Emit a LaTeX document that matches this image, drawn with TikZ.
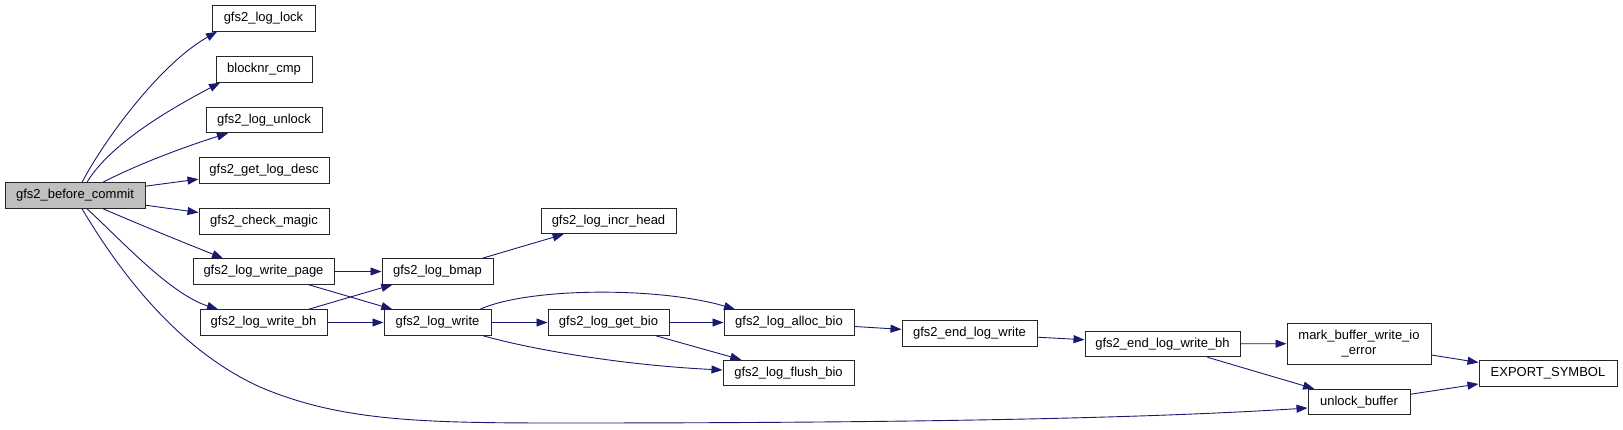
\documentclass[tikz,border=0pt]{standalone}
\usepackage{fontspec}
\setmainfont{Liberation Sans}
\usetikzlibrary{arrows.meta}
\definecolor{edgeblue}{HTML}{191970}
\definecolor{rootgray}{HTML}{BFBFBF}

\begin{document}
\begin{tikzpicture}[x=1pt,y=1pt,
  fn/.style={draw=black!85, line width=1pt, minimum height=25.5pt, inner sep=0pt,
    align=center, font=\fontsize{13}{15}\selectfont},
  call/.style={draw=edgeblue, line width=0.9pt, -{Triangle[length=11pt,width=8pt]}}]
  \useasboundingbox (0,0) rectangle (1623,429);

  % functions
  \node[fn, fill=rootgray, minimum width=140pt] (before) at (75,233.5) {gfs2\_before\_commit};
  \node[fn, minimum width=103pt] (loglock) at (263.5,410.5) {gfs2\_log\_lock};
  \node[fn, minimum width=96pt] (blocknr) at (264,359.5) {blocknr\_cmp};
  \node[fn, minimum width=116pt] (logunlock) at (264,309) {gfs2\_log\_unlock};
  \node[fn, minimum width=130pt] (getlogdesc) at (264,258.5) {gfs2\_get\_log\_desc};
  \node[fn, minimum width=130pt] (checkmagic) at (264,207.5) {gfs2\_check\_magic};
  \node[fn, minimum width=141pt] (writepage) at (263.5,157.5) {gfs2\_log\_write\_page};
  \node[fn, minimum width=127pt] (writebh) at (263.5,106.5) {gfs2\_log\_write\_bh};
  \node[fn, minimum width=111pt] (bmap) at (437.5,157.5) {gfs2\_log\_bmap};
  \node[fn, minimum width=107pt] (logwrite) at (437.5,106.5) {gfs2\_log\_write};
  \node[fn, minimum width=135pt] (incrhead) at (608.5,208) {gfs2\_log\_incr\_head};
  \node[fn, minimum width=121pt] (getbio) at (608.5,106.5) {gfs2\_log\_get\_bio};
  \node[fn, minimum width=130pt] (allocbio) at (789,106.5) {gfs2\_log\_alloc\_bio};
  \node[fn, minimum width=131pt] (flushbio) at (788.5,56) {gfs2\_log\_flush\_bio};
  \node[fn, minimum width=135pt] (endlogwrite) at (969.5,95.5) {gfs2\_end\_log\_write};
  \node[fn, minimum width=155pt] (endlogwritebh) at (1162.5,85) {gfs2\_end\_log\_write\_bh};
  \node[fn, minimum width=144pt, minimum height=41pt] (markbuf) at (1359,85.5) {mark\_buffer\_write\_io\\\_error};
  \node[fn, minimum width=138pt] (exportsym) at (1548,55.5) {EXPORT\_SYMBOL};
  \node[fn, minimum width=102pt] (unlockbuf) at (1359,27) {unlock\_buffer};

  % calls from gfs2_before_commit
  \draw[call] ([xshift=7]before.north) .. controls (105,290) and (160,365) .. ([xshift=-46.5]loglock.south);
  \draw[call] ([xshift=12]before.north) .. controls (110,285) and (170,320) .. ([xshift=-44]blocknr.south);
  \draw[call] ([xshift=28]before.north) .. controls (140,266) and (190,284) .. ([xshift=-36]logunlock.south);
  \draw[call] (before) -- (getlogdesc);
  \draw[call] (before) -- (checkmagic);
  \draw[call] ([xshift=28]before.south) .. controls (150,200) and (190,184) .. ([xshift=-40.5]writepage.north);
  \draw[call] ([xshift=12]before.south) .. controls (120,190) and (170,135) .. ([xshift=-45.5]writebh.north);
  \draw[call] ([xshift=7]before.south) .. controls (125,148) and (183,77) .. (260,42)
    .. controls (340,8) and (420,6) .. (560,6)
    .. controls (850,6) and (1120,9) .. ([yshift=-6]unlockbuf.west);

  % the rest
  \draw[call] (writepage) -- (bmap);
  \draw[call] (writepage) -- (logwrite);
  \draw[call] (writebh) -- (bmap);
  \draw[call] (writebh) -- (logwrite);
  \draw[call] (bmap) -- (incrhead);
  \draw[call] ([xshift=42.5]logwrite.north) .. controls (530,142) and (660,142) .. ([xshift=-54]allocbio.north);
  \draw[call] (logwrite) -- (getbio);
  \draw[call] ([xshift=45.5]logwrite.south) .. controls (530,80) and (620,64) .. ([yshift=3]flushbio.west);
  \draw[call] (getbio) -- (allocbio);
  \draw[call] (getbio) -- (flushbio);
  \draw[call] (allocbio) -- (endlogwrite);
  \draw[call] (endlogwrite) -- (endlogwritebh);
  \draw[call] (endlogwritebh) -- (markbuf);
  \draw[call] (endlogwritebh) -- (unlockbuf);
  \draw[call] (markbuf) -- (exportsym);
  \draw[call] (unlockbuf) -- (exportsym);
\end{tikzpicture}
\end{document}
